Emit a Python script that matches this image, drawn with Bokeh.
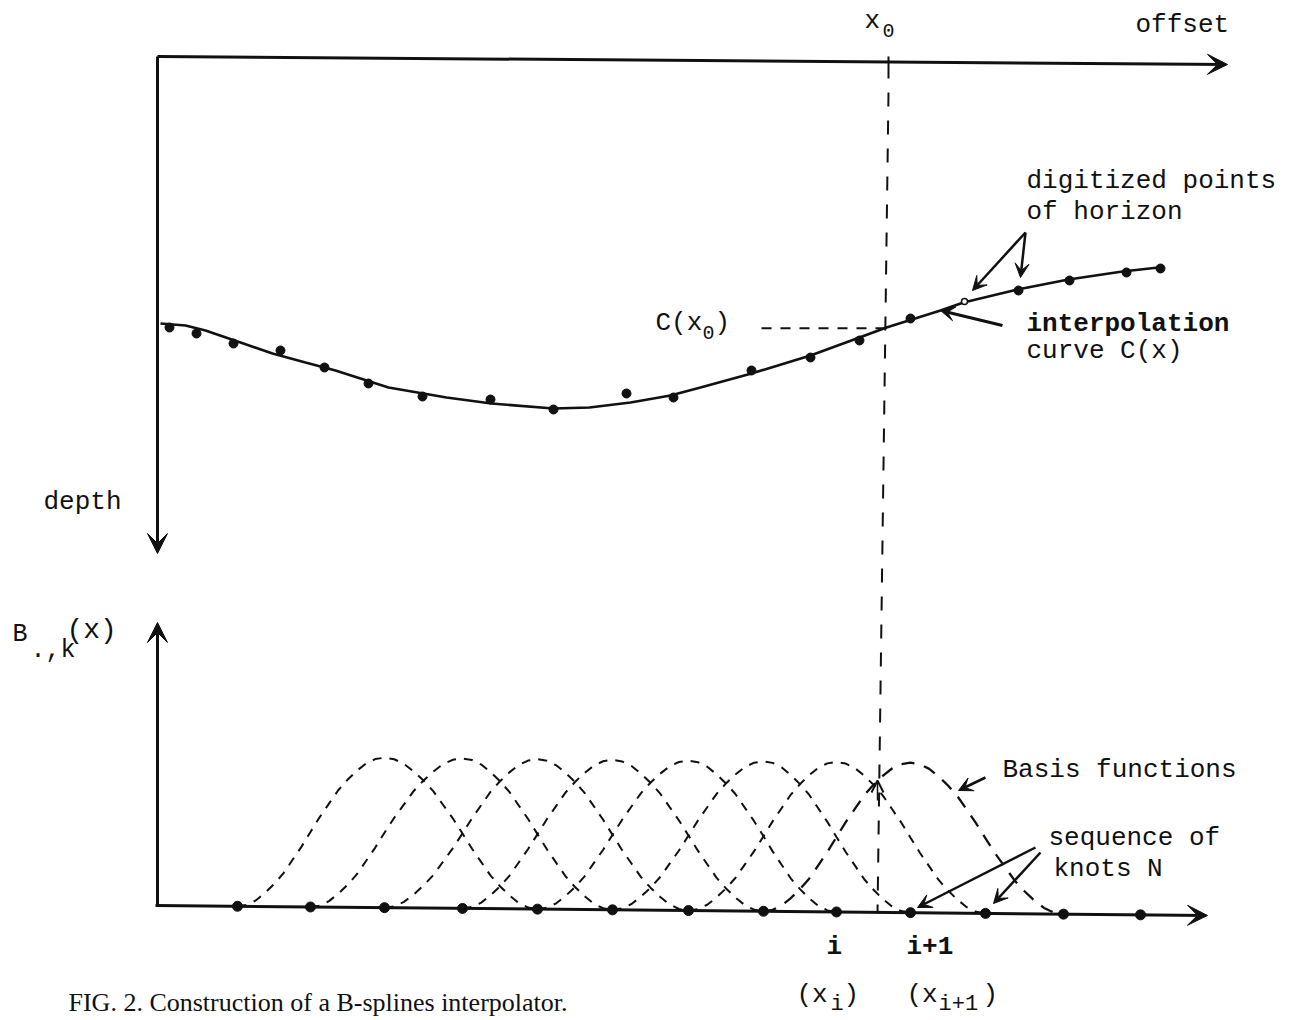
import numpy as np
from bokeh.plotting import figure
from bokeh.models import Range1d, Arrow, VeeHead, OpenHead
from bokeh.core.properties import value
from bokeh.embed import file_html
from bokeh.resources import INLINE

# ---- horizon picks (offset, depth) in drawing units ----
picks_offset = [169, 196, 233, 280, 324, 368, 422, 490, 553, 626, 673,
                751, 810, 859, 910, 1018, 1069, 1126, 1160]
picks_depth = [327, 333, 343, 350, 367, 383, 396, 399, 409, 393, 397,
               370, 357, 340, 318, 290, 280, 272, 268]
open_pick_offset = [964]
open_pick_depth = [301]

# ---- interpolating curve C(x) ----
curve_offset = [160, 185, 205, 240, 272, 305, 335, 388, 446, 491, 553, 589,
                630, 670, 700, 751, 810, 859, 886, 940, 963, 1017, 1068,
                1122, 1158]
curve_depth = [323, 325, 330, 342, 353, 362, 370, 387, 397, 403, 408, 407,
               402, 395, 387, 373, 355, 337, 327, 310, 302, 289, 279, 271,
               267]

# ---- knot sequence along the lower axis ----
knot_offset = [237, 310, 384, 462, 537, 612, 688, 763, 836, 910, 985,
               1063, 1140]
# one basis function sampled at steps of 1/8 knot interval (rising half)
basis_half = [0.0, 0.01, 0.04, 0.09, 0.15, 0.22, 0.31, 0.40, 0.50, 0.60,
              0.69, 0.78, 0.85, 0.91, 0.96, 0.99, 1.0]
n_basis = 8

x0_offset = 888

W, H = 1292, 1020
MONO = value("Liberation Mono")
INK = "#111111"

p = figure(width=W, height=H, x_range=Range1d(0, W), y_range=Range1d(H, 0),
           output_backend="svg", toolbar_location=None,
           x_axis_type=None, y_axis_type=None, min_border=0)
p.grid.visible = False
p.outline_line_color = None
p.background_fill_color = "white"
p.border_fill_color = "white"


def head(size=18):
    return VeeHead(size=size, fill_color=INK, line_color=INK, line_width=1)


def arrow(xs, ys, xe, ye, lw=3, size=18):
    p.add_layout(Arrow(x_start=xs, y_start=ys, x_end=xe, y_end=ye,
                       line_color=INK, line_width=lw, end=head(size)))


# ---- upper panel: offset / depth frame ----
arrow(157, 56, 1227, 64, lw=3, size=20)
arrow(157, 56, 157, 553, lw=3, size=20)

# lower panel: basis-function axis, slightly tilted like the drawing
ax_x0, ax_y0, ax_x1, ax_y1 = 155, 905, 1207, 915
arrow(ax_x0, ax_y0, ax_x1, ax_y1, lw=3, size=20)
arrow(157, 905, 157, 622, lw=3, size=20)


def axis_y(x):
    return ax_y0 + (np.asarray(x, float) - ax_x0) * (ax_y1 - ax_y0) / (ax_x1 - ax_x0)


# curve and picks
p.line(curve_offset, curve_depth, line_color=INK, line_width=2.6)
p.scatter(picks_offset, picks_depth, size=9, color=INK)
p.scatter(open_pick_offset, open_pick_depth, size=6, fill_color="white",
          line_color=INK, line_width=1.5)

# x0 guide: short tick, then dashed line down to the lower axis
p.segment(x0_offset, 56, x0_offset, 78, line_color=INK, line_width=2)
p.line([x0_offset, x0_offset - 11], [92, 913], line_color=INK,
       line_width=2, line_dash="14 14")
cx0 = float(np.interp(x0_offset - 4, curve_offset, curve_depth))
p.line([761, x0_offset - 4], [cx0, cx0], line_color=INK, line_width=2,
       line_dash="10 9")
p.add_layout(Arrow(x_start=877, y_start=800, x_end=877, y_end=780,
                   line_color=INK, line_width=1.5,
                   end=OpenHead(size=12, line_color=INK, line_width=2)))

# knots
kx = np.array(knot_offset, float)
p.scatter(kx, axis_y(kx), size=10, color=INK)

# basis functions, each spanning four knot intervals
profile = np.array(basis_half + basis_half[-2::-1])
t = np.linspace(0, 4, len(profile))
peak_px = 150
for j in range(n_basis):
    bx = np.interp(t + j, np.arange(len(kx)), kx)
    by = axis_y(bx) - profile * peak_px
    last = j == n_basis - 1
    p.line(bx, by, line_color=INK, line_width=2.3 if last else 2.0,
           line_dash="13 10" if last else "9 8")

# annotation pointers
arrow(1025, 232, 972, 290, lw=2.5, size=14)
arrow(1025, 232, 1020, 277, lw=2.5, size=14)
arrow(1002, 325, 940, 310, lw=3, size=14)
arrow(985, 777, 958, 790, lw=2.5, size=14)
arrow(1035, 847, 917, 907, lw=2.5, size=14)
arrow(1040, 852, 993, 903, lw=2.5, size=14)


def label(x, y, s, size=26, bold=False, baseline="middle", font=MONO):
    p.text(x=[x], y=[y], text=[s], text_font=font,
           text_font_size=f"{size}px", text_color=INK,
           text_baseline=baseline, text_align="left",
           text_font_style="bold" if bold else "normal")


label(1135, 24, "offset")
label(864, 20, "x")
label(882, 30, "0", size=20)
label(43, 501, "depth")

label(655, 322, "C(x")
label(702, 332, "0", size=20)
label(714, 322, ")")

label(1026, 180, "digitized points")
label(1026, 211, "of horizon")
label(1026, 323, "interpolation", bold=True)
label(1026, 350, "curve C(x)")

label(12, 634, "B", size=25)
label(30, 650, ".,k", size=25)
label(66, 630, "(x)", size=28)

label(1002, 769, "Basis functions")
label(1048, 837, "sequence of")
label(1053, 868, "knots N")

label(826, 946, "i", bold=True)
label(906, 946, "i+1", bold=True)
label(796, 994, "(x")
label(830, 1004, "i", size=22)
label(843, 994, ")")
label(906, 994, "(x")
label(938, 1004, "i+1", size=22)
label(982, 994, ")")

label(68, 1016, "FIG. 2. Construction of a B-splines interpolator.", size=26,
      baseline="bottom", font=value("Liberation Serif"))

open("out.html", "w").write(file_html(p, INLINE))
